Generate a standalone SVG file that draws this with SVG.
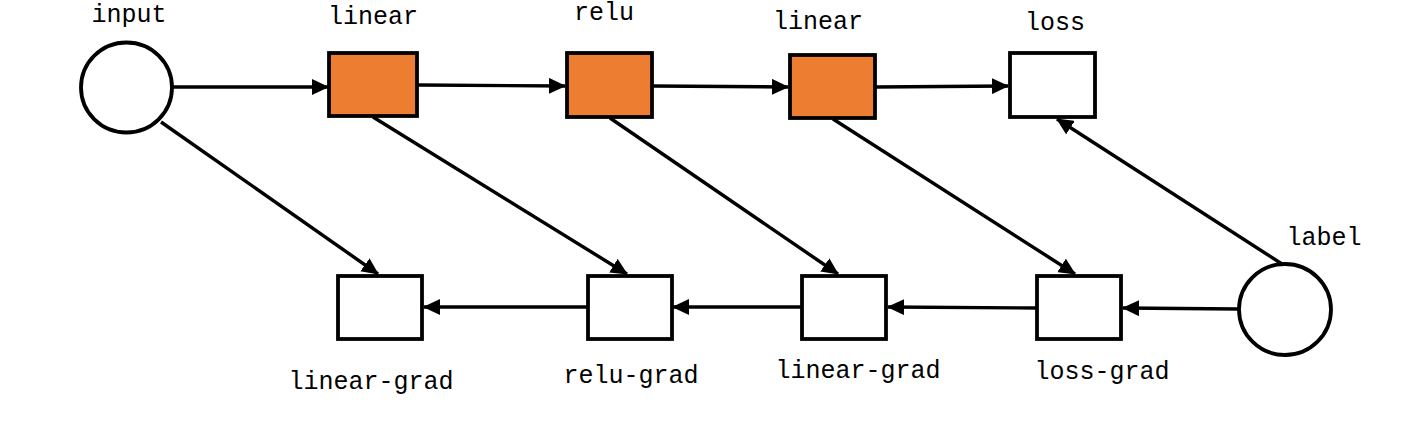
<svg xmlns="http://www.w3.org/2000/svg" width="1402" height="429" viewBox="0 0 1402 429">
<style>
.n{stroke:#000;stroke-width:3.8}
.op{fill:#ED7D31}
.wh{fill:#fff}
.lbl{font-family:"Liberation Mono","DejaVu Sans Mono",monospace;font-size:25px;fill:#000}
.e{stroke:#000;stroke-width:3.4;fill:none;marker-end:url(#ah)}
</style>
<defs>
<marker id="ah" markerUnits="userSpaceOnUse" markerWidth="18" markerHeight="16" refX="16" refY="8" orient="auto">
<path d="M0,0 L17,8 L0,16 z" fill="#000"/>
</marker>
</defs>
<rect width="1402" height="429" fill="#fff"/>
<g id="connectors">
<line class="e" x1="172" y1="87" x2="328" y2="87"/>
<line class="e" x1="418" y1="85" x2="565" y2="86"/>
<line class="e" x1="652" y1="86" x2="788" y2="87"/>
<line class="e" x1="875" y1="87" x2="1008" y2="86"/>
<line class="e" x1="161" y1="122" x2="378" y2="274"/>
<line class="e" x1="373" y1="117" x2="627" y2="274"/>
<line class="e" x1="610" y1="118" x2="838" y2="274"/>
<line class="e" x1="833" y1="119" x2="1075" y2="274"/>
<line class="e" x1="1282" y1="264" x2="1057" y2="119"/>
<line class="e" x1="1238" y1="309" x2="1123" y2="308"/>
<line class="e" x1="1037" y1="308" x2="888" y2="307"/>
<line class="e" x1="802" y1="307" x2="673" y2="307"/>
<line class="e" x1="588" y1="307" x2="424" y2="307"/>
</g>
<g id="input"><ellipse class="n wh" cx="126.5" cy="87.5" rx="45.5" ry="45"/><text class="lbl" x="129" y="22" text-anchor="middle">input</text></g>
<g id="linear1"><rect class="n op" x="329" y="53" width="88" height="63"/><text class="lbl" x="373" y="24" text-anchor="middle">linear</text></g>
<g id="relu"><rect class="n op" x="567" y="53" width="85" height="64"/><text class="lbl" x="604" y="20" text-anchor="middle">relu</text></g>
<g id="linear2"><rect class="n op" x="790" y="55" width="85" height="63"/><text class="lbl" x="818" y="29" text-anchor="middle">linear</text></g>
<g id="loss"><rect class="n wh" x="1010" y="53" width="85" height="64"/><text class="lbl" x="1055" y="30" text-anchor="middle">loss</text></g>
<g id="label"><ellipse class="n wh" cx="1285" cy="309.5" rx="46" ry="45.5"/><text class="lbl" x="1324" y="245" text-anchor="middle">label</text></g>
<g id="linear-grad1"><rect class="n wh" x="338" y="276" width="84" height="63"/><text class="lbl" x="371" y="389" text-anchor="middle">linear-grad</text></g>
<g id="relu-grad"><rect class="n wh" x="588" y="276" width="84" height="63"/><text class="lbl" x="631" y="383" text-anchor="middle">relu-grad</text></g>
<g id="linear-grad2"><rect class="n wh" x="802" y="276" width="84" height="63"/><text class="lbl" x="858" y="378" text-anchor="middle">linear-grad</text></g>
<g id="loss-grad"><rect class="n wh" x="1037" y="276" width="84" height="63"/><text class="lbl" x="1102" y="379" text-anchor="middle">loss-grad</text></g>
</svg>
